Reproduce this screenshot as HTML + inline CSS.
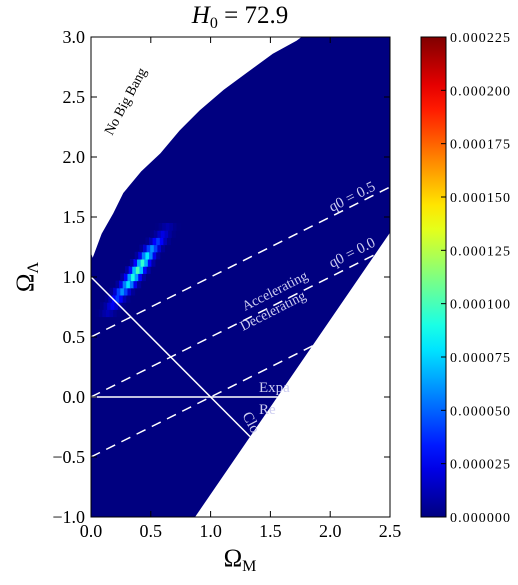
<!DOCTYPE html>
<html><head><meta charset="utf-8"><style>
html,body{margin:0;padding:0;background:#fff;}
svg{display:block;font-family:"Liberation Serif",serif;}
</style></head><body>
<svg id="chart" width="518" height="585" viewBox="0 0 518 585">
<text x="240" y="23" text-anchor="middle" font-size="25" font-style="italic">H<tspan font-size="16" dy="5" font-style="normal">0</tspan><tspan dy="-5" font-style="normal"> = 72.9</tspan></text>
<g id="plot"></g>
<g id="cbar"></g>
<text x="240" y="566" text-anchor="middle" font-size="25">Ω<tspan font-size="16" dy="5">M</tspan></text>
<text x="0" y="0" text-anchor="middle" font-size="25" transform="translate(33,277) rotate(-90)">Ω<tspan font-size="16" dy="5">Λ</tspan></text>
</svg>
<script>
// ---- data ----
const xTicks = [0.0, 0.5, 1.0, 1.5, 2.0, 2.5];
const yTicks = [-1.0, -0.5, 0.0, 0.5, 1.0, 1.5, 2.0, 2.5, 3.0];
const cbTicks = [0, 0.000025, 0.00005, 0.000075, 0.0001, 0.000125, 0.00015, 0.000175, 0.0002, 0.000225];
const cbLabels = ["0.000000","0.000025","0.000050","0.000075","0.000100","0.000125","0.000150","0.000175","0.000200","0.000225"];
// allowed region boundary (Omega_M, Omega_Lambda)
const regionM = [0, 0.014, 0.089, 0.186, 0.27, 0.42, 0.58, 0.74, 0.91, 1.11, 1.30, 1.52, 1.72, 1.76, 2.5, 2.5, 0.87, 0];
const regionL = [1.2, 1.16, 1.36, 1.53, 1.70, 1.88, 2.03, 2.22, 2.39, 2.56, 2.70, 2.86, 2.97, 3.0, 3.0, 1.37, -1.0, -1.0];
// posterior ridge rows
const ridgeL = [0.70, 0.76, 0.82, 0.88, 0.94, 1.00, 1.06, 1.12, 1.18, 1.24, 1.30, 1.36, 1.42];
const ridgeM = [0.14, 0.18, 0.22, 0.26, 0.31, 0.35, 0.39, 0.43, 0.47, 0.51, 0.56, 0.60, 0.64];
const ridgeV = [0.000012, 0.000025, 0.00004, 0.00006, 0.000078, 0.00009, 0.0001, 0.000095, 0.00008, 0.00006, 0.00004, 0.000022, 0.00001];
const crossW = [0.08, 0.3, 0.7, 1, 0.7, 0.3, 0.08];
const vmax = 0.000225;

// ---- axes ----
const X0=91, X1=390, Y0=517, Y1=37;
const sx = v => X0 + (v-0)/(2.5-0)*(X1-X0);
const sy = v => Y0 - (v+1)/(3+1)*(Y0-Y1);
const NS="http://www.w3.org/2000/svg";
function mk(tag, attrs, parent){const e=document.createElementNS(NS,tag);for(const k in attrs)e.setAttribute(k,attrs[k]);parent.appendChild(e);return e;}
function jet(t){t=Math.max(0,Math.min(1,t));
  const r=Math.max(0,Math.min(1,1.5-Math.abs(4*t-3)));
  const g=Math.max(0,Math.min(1,1.5-Math.abs(4*t-2)));
  const b=Math.max(0,Math.min(1,1.5-Math.abs(4*t-1)));
  return `rgb(${Math.round(r*255)},${Math.round(g*255)},${Math.round(b*255)})`;}
const plot=document.getElementById('plot');
const defs=mk('defs',{},plot);
const cp=mk('clipPath',{id:'clip'},defs);
mk('rect',{x:X0,y:Y1,width:X1-X0,height:Y0-Y1},cp);

// region
const pts=regionM.map((m,i)=>sx(m)+','+sy(regionL[i])).join(' ');
const reg=mk('polygon',{points:pts,fill:jet(0),'clip-path':'url(#clip)'},plot);



// heatmap cells
const dM=0.03, dL=0.06;
ridgeL.forEach((L,i)=>{
  crossW.forEach((w,j)=>{
    const m=ridgeM[i]+(j-3)*dM;
    const v=ridgeV[i]*w;
    const c=mk('rect',{x:sx(m-dM/2),y:sy(L+dL/2),width:sx(dM)-sx(0)+0.5,height:sy(0)-sy(dL)+0.5,fill:jet(v/vmax)},plot);
    
    
  });
});

// reference lines
function line(m1,l1,m2,l2,dash,name){const e=mk('line',{x1:sx(m1),y1:sy(l1),x2:sx(m2),y2:sy(l2),stroke:'#fff','stroke-width':1.5,'stroke-dasharray':dash||'none','clip-path':'url(#clip)'},plot);
  
  }
line(0,0.5,2.5,1.75,'10,7','q0-0.5-line');
line(0,0,2.5,1.25,'10,7','q0-0.0-line');
line(0,-0.5,1.93,0.465,'10,7','q0-minus-line');
line(0,1,1.33,-0.33,null,'flat-line');
line(0,0,1.56,0,null,'expansion-line');

function txt(s,x,y,rot,fill,size,name){const e=mk('text',{x:0,y:0,'font-size':size||13,fill:fill,transform:`translate(${x},${y}) rotate(${rot})`},plot);e.textContent=s;
  
  return e;}
const lc='#ccccf0';
txt('No Big Bang',112,136,-62,'#000',14,'no-big-bang-label');
txt('q0 = 0.5',332,212,-27,lc,15,'q0-0.5-label');
txt('q0 = 0.0',332,268,-27,lc,15,'q0-0.0-label');
txt('Accelerating',245,311,-27,lc,14,'accelerating-label');
txt('Decelerating',243,331,-27,lc,14,'decelerating-label');
txt('Expa',259,392,0,lc,15,'expanding-label');
txt('Re',259,414,0,lc,15,'recollapse-label');
txt('Clo',242,415,62,lc,15,'closed-label');

// frame & ticks
mk('rect',{x:X0,y:Y1,width:X1-X0,height:Y0-Y1,fill:'none',stroke:'#000','stroke-width':1},plot);
xTicks.forEach(v=>{const x=sx(v);
  mk('line',{x1:x,y1:Y0,x2:x,y2:Y0-6,stroke:'#000'},plot);
  mk('line',{x1:x,y1:Y1,x2:x,y2:Y1+6,stroke:'#000'},plot);
  const t=mk('text',{x:x,y:Y0+20,'text-anchor':'middle','font-size':18},plot);t.textContent=v.toFixed(1);
  
  });
yTicks.forEach(v=>{const y=sy(v);
  mk('line',{x1:X0,y1:y,x2:X0+6,y2:y,stroke:'#000'},plot);
  mk('line',{x1:X1,y1:y,x2:X1-6,y2:y,stroke:'#000'},plot);
  const t=mk('text',{x:X0-6,y:y+6,'text-anchor':'end','font-size':18},plot);t.textContent=(v<0?'−':'')+Math.abs(v).toFixed(1);
  
  });

// colorbar
const cb=document.getElementById('cbar');
const CX=421, CW=25;
const g=mk('linearGradient',{id:'jet',x1:0,y1:1,x2:0,y2:0},defs);
for(let i=0;i<=20;i++)mk('stop',{offset:i/20,'stop-color':jet(i/20)},g);
mk('rect',{x:CX,y:Y1,width:CW,height:Y0-Y1,fill:'url(#jet)',stroke:'#000','stroke-width':1},cb);
cbTicks.forEach((v,i)=>{const y=Y0-v/vmax*(Y0-Y1);
  mk('line',{x1:CX+CW-5,y1:y,x2:CX+CW,y2:y,stroke:'#000'},cb);
  const t=mk('text',{x:CX+CW+4,y:y+5,'font-size':14,textLength:60},cb);t.textContent=cbLabels[i];
  
  });
</script>
</body></html>
